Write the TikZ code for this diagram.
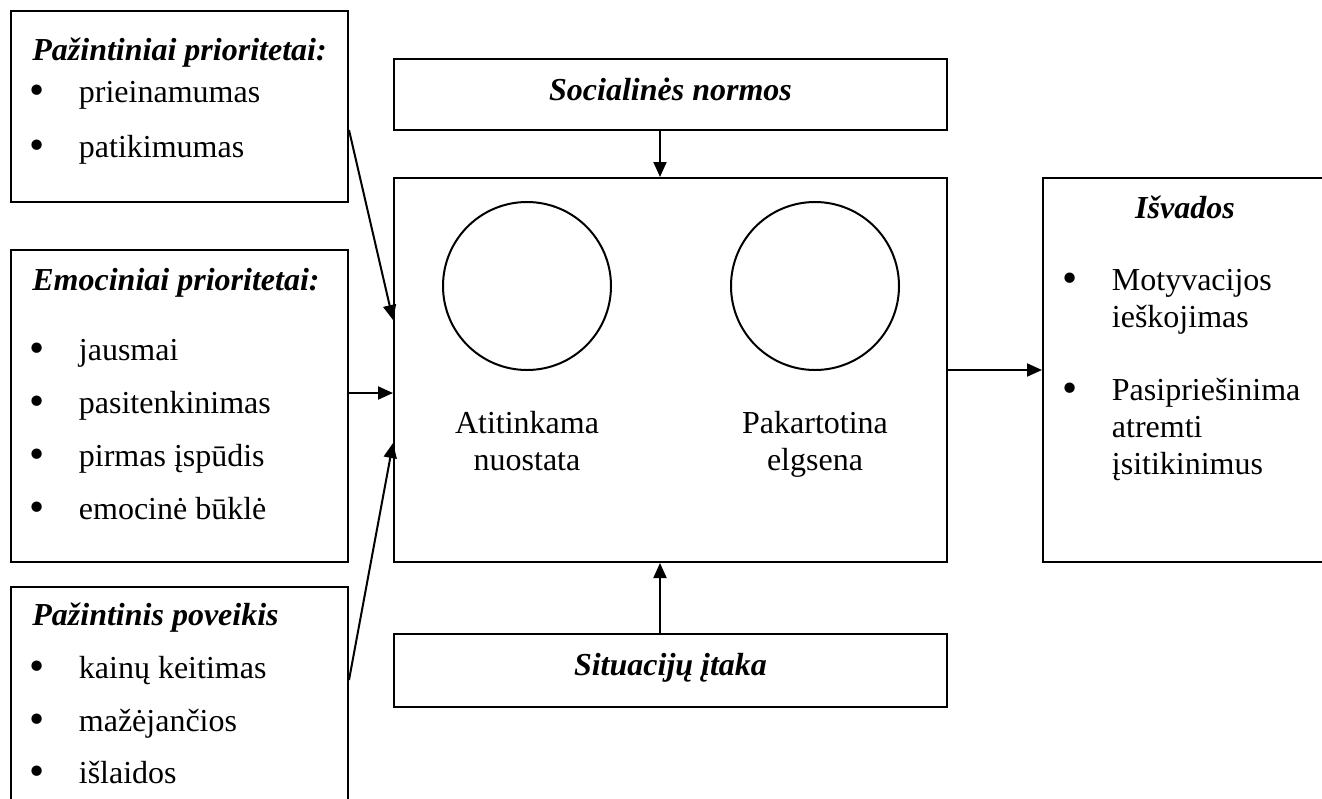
\documentclass[tikz,border=0pt]{standalone}
\usepackage{graphicx}
\usepackage{fontspec}
\setmainfont{Liberation Serif}
\usetikzlibrary{arrows.meta,fit}
% bullet followed by the hanging indent of a list item
\newcommand\lbul{\makebox[23.75pt][l]{\hspace{-0.75pt}\raisebox{-1.3pt}{\scalebox{1.35}{•}}}}
\begin{document}
\begin{tikzpicture}[x=0.5pt,y=-0.5pt,
  box/.style={draw, line width=1pt, inner sep=0pt},
  arr/.style={line width=1pt, -{Triangle[length=7.5pt,width=6.5pt]}},
  ttl/.style={anchor=base west, inner sep=0pt, font=\fontsize{16pt}{18.5pt}\selectfont\bfseries\itshape},
  itm/.style={anchor=base west, inner sep=0pt, font=\fontsize{16pt}{18.5pt}\selectfont},
  ring/.style={circle, draw, line width=1pt, minimum size=84pt, inner sep=0pt}]
\useasboundingbox (0,0) rectangle (1322,798);
\clip (0,0) rectangle (1322,798);
\fill[white] (0,0) rectangle (1322,798);

% cognitive priorities
\node[box, fit={(11,11) (348,202)}] (pazint) {};
\node[ttl] (pazintT) at (32,60) {Pažintiniai prioritetai:};
\node[itm] (pazint1) at (31,102) {\lbul prieinamumas};
\node[itm] (pazint2) at (31,157) {\lbul patikimumas};

% emotional priorities
\node[box, fit={(11,250) (348,562)}] (emoc) {};
\node[ttl] (emocT) at (32,290) {Emociniai prioritetai:};
\node[itm] (emoc1) at (31,360) {\lbul jausmai};
\node[itm] (emoc2) at (31,413) {\lbul pasitenkinimas};
\node[itm] (emoc3) at (31,466) {\lbul pirmas įspūdis};
\node[itm] (emoc4) at (31,519) {\lbul emocinė būklė};

% cognitive influence (runs past the lower edge)
\node[box, fit={(11,587) (348,830)}] (povei) {};
\node[ttl] (poveiT) at (32,625) {Pažintinis poveikis};
\node[itm] (povei1) at (31,678) {\lbul kainų keitimas};
\node[itm] (povei2) at (31,731) {\lbul mažėjančios};
\node[itm] (povei3) at (31,783) {\lbul išlaidos};

% social norms, central block, situational influence
\node[box, fit={(394,59) (947,130)}] (soc) {};
\node[ttl, anchor=base] (socT) at (670.5,100) {Socialinės normos};
\node[box, fit={(394,178) (947,562)}] (center) {};
\node[box, fit={(394,634) (947,707)}] (sit) {};
\node[ttl, anchor=base] (sitT) at (670.5,675) {Situacijų įtaka};

\node[ring] (c1) at (527,286) {};
\node[ring] (c2) at (815,286) {};
\node[itm, anchor=base] (t1) at (527,433) {\begin{tabular}[t]{@{}c@{}}Atitinkama\\nuostata\end{tabular}};
\node[itm, anchor=base] (t2) at (815,433) {\begin{tabular}[t]{@{}c@{}}Pakartotina\\elgsena\end{tabular}};

% conclusions (runs past the right edge)
\node[box, fit={(1043,178) (1340,562)}] (isv) {};
\node[ttl, anchor=base] (isvT) at (1185,218) {Išvados};
\node[itm] (isv1) at (1064,290) {\lbul\parbox[t]{110pt}{Motyvacijos\\ieškojimas}};
\node[itm] (isv2) at (1064,400) {\lbul\parbox[t]{110pt}{Pasipriešinima\\atremti\\įsitikinimus}};

% connectors
\draw[arr] ([yshift=-11.75pt]pazint.east) -- ([yshift=25pt]center.west);
\draw[arr] ([yshift=6.5pt]emoc.east) -- ([yshift=-11.5pt]center.west);
\draw[arr] ([yshift=14.25pt]povei.east) -- ([yshift=-36.5pt]center.west);
\draw[arr] (center.east) -- (isv.west);
\draw[arr] ([xshift=-5.25pt]soc.south) -- ([xshift=-5.25pt]center.north);
\draw[arr] ([xshift=-5.25pt]sit.north) -- ([xshift=-5.25pt]center.south);
\end{tikzpicture}
\end{document}
